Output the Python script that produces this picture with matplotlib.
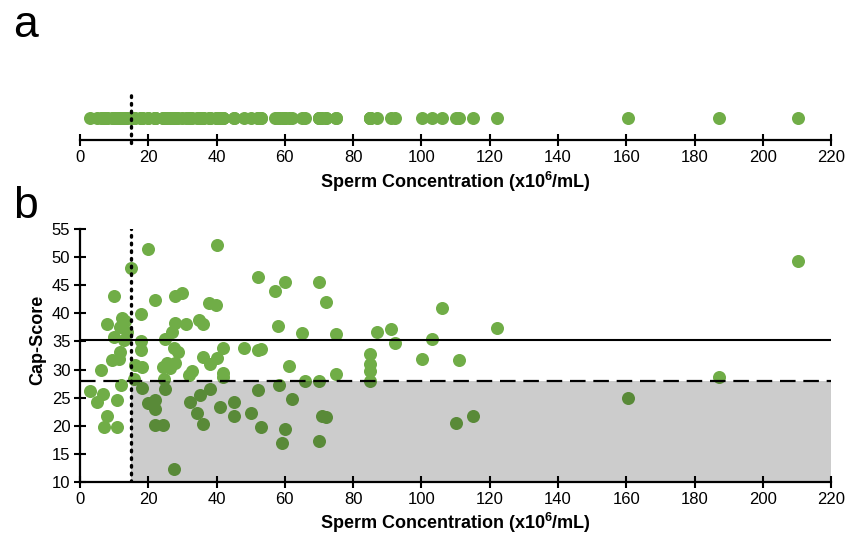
import matplotlib
matplotlib.use('Agg')
import matplotlib.pyplot as plt

plt.rcParams['font.family'] = ['Liberation Sans', 'DejaVu Sans']
plt.rcParams['mathtext.fontset'] = 'custom'
plt.rcParams['mathtext.rm'] = 'Liberation Sans:bold'
plt.rcParams['mathtext.it'] = 'Liberation Sans:bold'

# Sperm concentration (x10^6/mL) and Cap-Score for each sample
conc = [2.9, 4.9, 6.0, 6.8, 7.0, 7.9, 7.9, 10.0, 9.5, 10.0,
        10.9, 10.9, 11.5, 11.8, 11.8, 12.0, 12.2, 13.0, 13.2, 13.8,
        15.0, 15.8, 16.1, 17.9, 17.9, 18.0, 18.1, 18.1, 20.0, 20.0,
        22.0, 22.0, 22.0, 22.0, 24.2, 24.4, 24.6, 24.9, 24.9, 25.6,
        26.4, 26.9, 27.4, 27.4, 27.9, 27.9, 27.9, 28.8, 29.8, 31.1,
        31.8, 32.1, 32.8, 34.2, 34.9, 35.0, 35.9, 36.0, 36.1, 37.8,
        38.0, 38.1, 39.9, 40.1, 40.1, 41.0, 42.0, 42.0, 42.0, 45.0,
        45.0, 47.9, 50.0, 52.0, 52.0, 52.2, 53.0, 53.0, 57.2, 58.0,
        58.2, 59.1, 60.1, 60.1, 61.1, 62.1, 65.0, 66.0, 70.1, 70.1,
        70.1, 70.9, 72.1, 72.1, 75.1, 75.1, 85.0, 85.0, 85.0, 85.0,
        87.0, 91.1, 92.2, 100.2, 103.1, 106.1, 110.0, 111.1, 115.2, 122.2,
        160.4, 187.1, 210.3]
cap = [26.2, 24.3, 29.9, 25.7, 19.7, 38.1, 21.7, 43.0, 31.7, 35.8,
       24.5, 19.7, 31.8, 33.1, 37.6, 27.2, 39.2, 35.2, 38.6, 36.7,
       48.0, 28.3, 30.9, 33.4, 35.0, 39.8, 30.5, 26.7, 51.5, 24.0,
       42.3, 24.6, 23.0, 20.1, 20.1, 30.5, 28.4, 35.5, 26.5, 31.1,
       30.2, 36.7, 12.3, 33.8, 38.3, 43.1, 31.1, 33.1, 43.7, 38.1,
       29.0, 24.2, 29.7, 22.2, 38.9, 25.5, 38.1, 32.2, 20.4, 41.9,
       31.0, 26.6, 41.4, 52.2, 32.0, 23.3, 33.8, 29.4, 28.7, 24.2,
       21.7, 33.9, 22.2, 46.4, 33.5, 26.3, 33.7, 19.7, 43.9, 37.7,
       27.2, 16.9, 45.5, 19.5, 30.6, 24.8, 36.5, 27.9, 45.6, 27.9,
       17.3, 21.8, 42.0, 21.6, 36.3, 29.2, 32.7, 31.0, 29.8, 27.9,
       36.6, 37.2, 34.7, 31.8, 35.4, 41.0, 20.5, 31.7, 21.8, 37.4,
       24.9, 28.6, 49.3]

conc_cutoff = 15
cap_mean = 35.2
cap_cutoff = 28
x_ticks = list(range(0, 221, 20))
y_ticks = list(range(10, 56, 5))

green = '#70AD47'
xlab = r'Sperm Concentration (x10$^{6}$/mL)'

fig = plt.figure(figsize=(8.47, 5.40), dpi=100)

# panel a: strip of concentrations
ax1 = fig.add_axes([0.0945, 0.7407, 0.8867, 0.0926])
ax1.scatter(conc, [0.44] * len(conc), s=88, color=green, linewidths=0, zorder=3)
ax1.plot([conc_cutoff, conc_cutoff], [-0.05, 0.9], color='black', lw=2.4,
         linestyle=(0, (0.5, 1.8)), dash_capstyle='round', zorder=4, clip_on=False)
ax1.set_xlim(0, 220)
ax1.set_ylim(0, 1)
ax1.set_xticks(x_ticks)
ax1.set_yticks([])
for s in ['top', 'right', 'left']:
    ax1.spines[s].set_visible(False)
ax1.spines['bottom'].set_linewidth(1.6)
ax1.tick_params(axis='x', direction='inout', length=8, width=1.5, labelsize=12, pad=3)
ax1.set_xlabel(xlab, fontsize=13, fontweight='bold', labelpad=4)

# panel b: Cap-Score vs concentration
ax2 = fig.add_axes([0.0945, 0.1074, 0.8867, 0.4685])
ax2.scatter(conc, cap, s=88, color=green, linewidths=0, zorder=2, clip_on=False)
ax2.fill_between([conc_cutoff, 220], 10, cap_cutoff, color='black', alpha=0.2,
                 linewidth=0, zorder=3)
ax2.plot([0, 220], [cap_mean, cap_mean], color='black', lw=1.5, zorder=4)
ax2.plot([0, 220], [cap_cutoff, cap_cutoff], color='black', lw=1.6,
         linestyle=(0, (7, 3.5)), zorder=4)
ax2.plot([conc_cutoff, conc_cutoff], [10, 55], color='black', lw=2.4,
         linestyle=(0, (0.5, 1.8)), dash_capstyle='round', zorder=4)
ax2.set_xlim(0, 220)
ax2.set_ylim(10, 55)
ax2.set_xticks(x_ticks)
ax2.set_yticks(y_ticks)
for s in ['top', 'right']:
    ax2.spines[s].set_visible(False)
for s in ['bottom', 'left']:
    ax2.spines[s].set_linewidth(1.6)
    ax2.spines[s].set_zorder(5)
ax2.tick_params(direction='inout', length=8, width=1.5, labelsize=12, pad=3)
ax2.set_xlabel(xlab, fontsize=13, fontweight='bold', labelpad=3)
ax2.set_ylabel('Cap-Score', fontsize=13, fontweight='bold')
ax2.yaxis.set_label_coords(-0.045, 0.56)

fig.text(0.016, 0.952, 'a', fontsize=32, va='center', ha='left')
fig.text(0.016, 0.618, 'b', fontsize=32, va='center', ha='left')

fig.savefig('out.png', dpi=100)
